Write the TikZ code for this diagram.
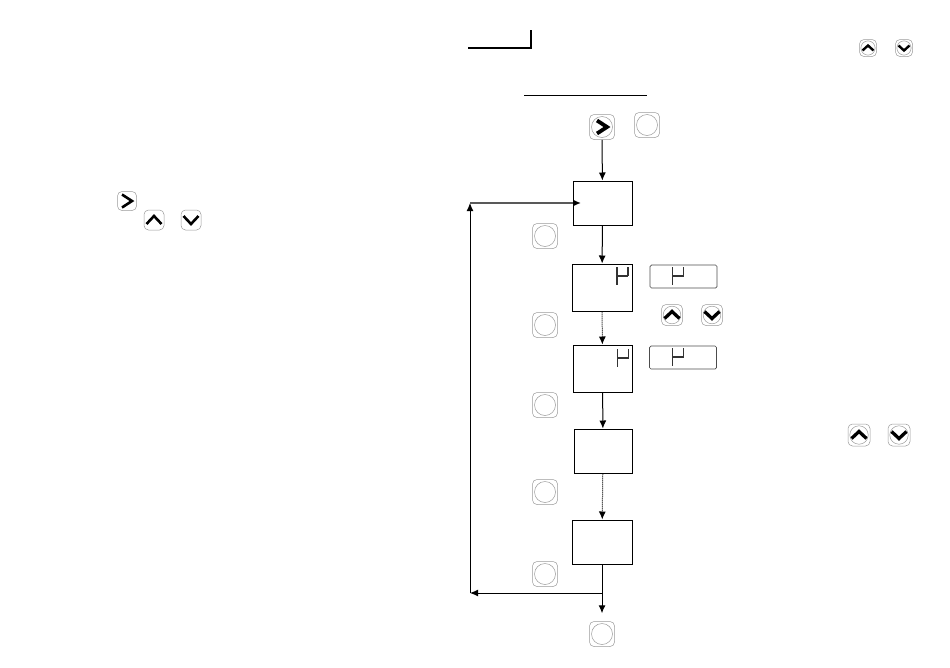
\documentclass[tikz,border=0pt]{standalone}
\usepackage{xcolor}
\usetikzlibrary{arrows.meta, positioning, calc}

\begin{document}
\begin{tikzpicture}[
    x=1pt, y=-1pt,
    stepbox/.style={
        draw,
        line width=1pt,
        inner sep=0pt,
        minimum width=59pt,
        minimum height=44pt
    },
    keycap/.style={
        draw=black!40,
        line width=0.5pt,
        rounded corners=4.5pt,
        inner sep=0pt,
        minimum size=#1pt
    },
    readout/.style={
        draw=black!70,
        line width=0.7pt,
        rounded corners=1.5pt,
        inner sep=0pt,
        minimum width=67pt,
        minimum height=23pt
    },
    flow/.style={
        line width=1pt,
        -{Latex[length=8pt,width=7pt,black]}
    },
    flowdot/.style={
        flow,
        densely dotted
    },
    rule/.style={
        line width=0.9pt
    },
    chev/.pic={
        \draw[line width=\chevw pt, miter limit=10, line join=miter, black]
            (-4.5,-6) -- (4.5,0) -- (-4.5,6);
    },
    segmu/.pic={
        % long stroke on the left, short one on the right, bar between them
        \draw[line width=1.3pt, black!80] (-5.5,-9) -- (-5.5,9);
        \draw[line width=1.3pt, black!80] (-5.5,0) -- (5.5,0);
        \draw[line width=1.3pt, black!80] (5.5,-9) -- (5.5,0);
    }
]
\useasboundingbox (0,0) rectangle (950,667);

% Rules at the top of the page
\coordinate (ruleA) at (468,48);
\coordinate (ruleB) at (531,48);
\coordinate (ruleC) at (531,30);
\draw[rule, line width=1.2pt] (ruleA) -- (ruleB) -- (ruleC);
\coordinate (headL) at (524,95);
\coordinate (headR) at (647,95);
\draw[rule] (headL) -- (headR);

% Flow boxes
\foreach \n/\x/\y/\w/\h in {box1/602.5/203/59/44, box2/602/287.5/60/47, box3/602.5/368.5/59/47,
                            box4/603/451/58/44, box5/602/542/60/44} {
    \node[stepbox, minimum width=\w pt, minimum height=\h pt] (\n) at (\x,\y) {};
}

% Keys with a ring and maybe a chevron
\foreach \n/\x/\y/\s in {kEnter/602/127/25, kMode/647/125/25, kA/545/236/25, kB/545/325/25,
                         kC/545/405/25, kD/545/492/25, kE/545/574/25, kEnd/602/634/25,
                         kUp1/672/315/21, kDn1/712/315/21, kUp2/868/48/17, kDn2/904/48/17,
                         kUp3/859/435/22, kDn3/899/435/22} {
    \node[keycap=\s] (\n) at (\x,\y) {};
    \draw[black!40, line width=0.5pt] (\n.center) circle ({\s*0.42});
}
% Keys in the left column have no ring
\foreach \n/\x/\y/\s in {kRight/127/201/19, kUp/154/220/20, kDown/191/220/20} {
    \node[keycap=\s] (\n) at (\x,\y) {};
}

% Chevrons on the keys: depth and span of each glyph
\foreach \n/\r/\d/\p/\chevw in {kEnter/0/10/13/3.8, kRight/0/10/13/2.6, kUp/90/8/15/2.6, kDown/-90/8/15/2.6,
                      kUp1/90/7/15/3.3, kDn1/-90/7/15/3.3, kUp2/90/5/11/2.4, kDn2/-90/5/11/2.4,
                      kUp3/90/7/15/3.3, kDn3/-90/7/15/3.3} {
    \pic[rotate=\r, xscale=\d/9, yscale=\p/12] at (\n.center) {chev};
}

% Readouts beside the boxes
\node[readout] (read1) at (683.5,276.5) {};
\node[readout] (read2) at (683,357.5) {};
\pic at (622.5,276) {segmu};
\pic at (623,358) {segmu};
\pic at (678,276) {segmu};
\pic at (678,357) {segmu};

% Connectors
\draw[flow] (kEnter) -- (box1);
\draw[flow] (box1) -- (box2);
\draw[flowdot] (box2) -- (box3);
\draw[flow] (box3) -- (box4);
\draw[flowdot] (box4) -- (box5);
\draw[flow, shorten >=8pt] (box5) -- (kEnd);

% Return path
\coordinate (split) at (602,593);
\coordinate (loopA) at (470,593);
\coordinate (loopB) at (470,203);
\coordinate (boxIn) at (581,203);
\draw[flow] (split) -- (loopA);
\draw[flow] (loopA) -- (loopB);
\draw[flow, line width=1.5pt, black!65] (loopB) -- (boxIn);
\end{tikzpicture}
\end{document}
